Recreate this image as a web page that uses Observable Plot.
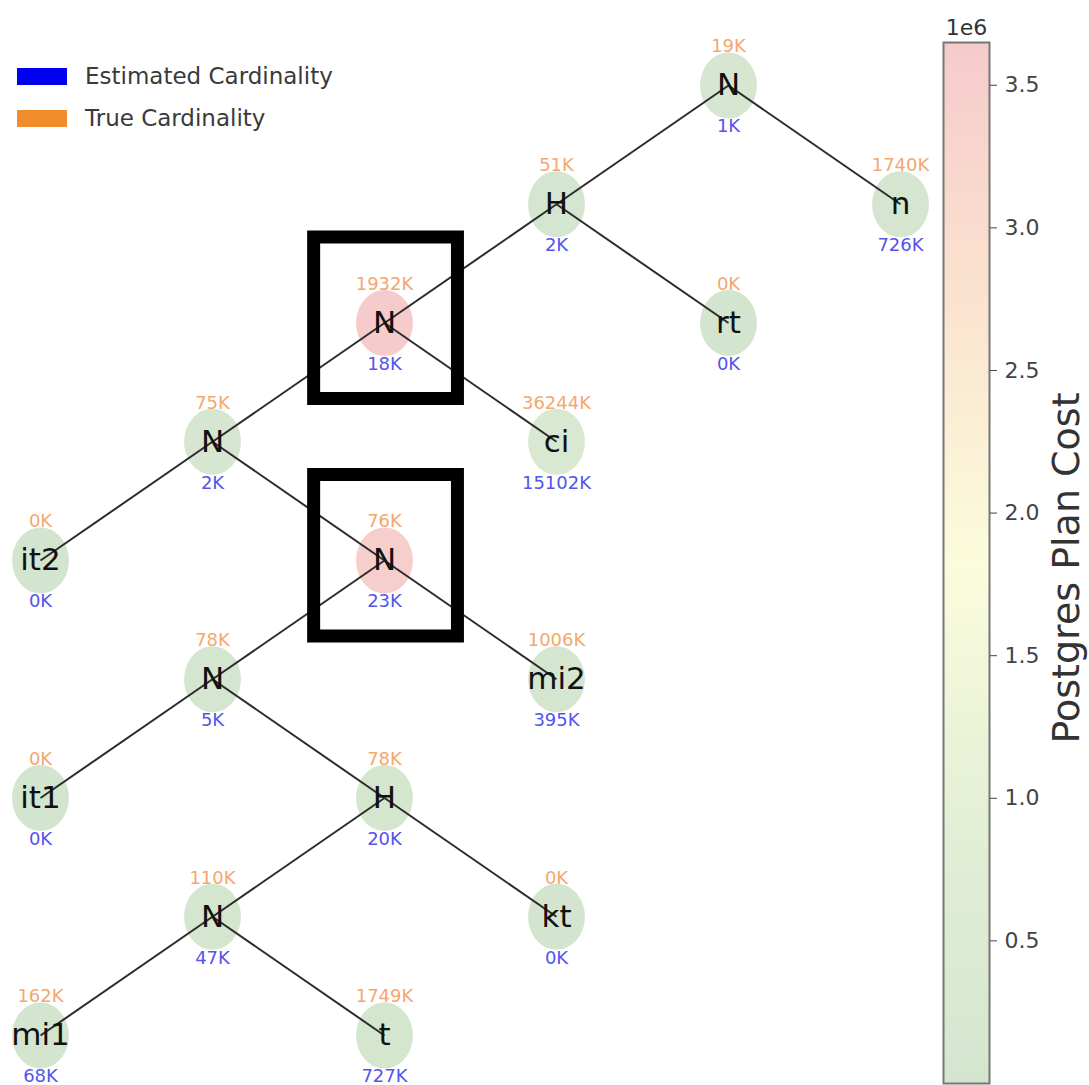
<!DOCTYPE html>
<html><head><meta charset="utf-8">
<script src="https://cdn.jsdelivr.net/npm/d3@7"></script>
<script src="https://cdn.jsdelivr.net/npm/@observablehq/plot@0.6"></script>
<style>
html,body{margin:0;padding:0;background:#fff;}
#wrap{position:relative;width:1089px;height:1085px;font-family:"DejaVu Sans",sans-serif;}
#wrap svg{position:absolute;left:0;top:0;}
#legend{position:absolute;left:17px;top:55px;z-index:5;}
.item{display:flex;align-items:center;height:42px;margin:0;}
.patch{width:50px;height:17px;margin-right:18px;}
.lab{font-size:23px;color:#3a3a3a;line-height:1;}
</style></head>
<body><div id="wrap"><div id="legend"></div></div>
<script>
// ---- data ----
const names     = ["N","H","n","N","rt","N","ci","it2","N","N","mi2","it1","H","N","kt","mi1","t"];
const parents   = [-1, 0, 0, 1, 1, 3, 3, 5, 5, 8, 8, 9, 9, 12, 12, 13, 13];
const trueCard  = ["19K","51K","1740K","1932K","0K","75K","36244K","0K","76K","78K","1006K","0K","78K","110K","0K","162K","1749K"];
const estCard   = ["1K","2K","726K","18K","0K","2K","15102K","0K","23K","5K","395K","0K","20K","47K","0K","68K","727K"];
const planCost  = [120000, 90000, 40000, 3600000, 10000, 100000, 250000, 10000, 3550000, 80000, 90000, 10000, 70000, 60000, 10000, 20000, 50000];
const highlighted = [3, 8];
const legendLabels = ["Estimated Cardinality", "True Cardinality"];
const legendColors = ["#0000f0", "#f08c2c"];
const costTicks = [500000, 1000000, 1500000, 2000000, 2500000, 3000000, 3500000];
const costMax = 3650000;
const rampColors = ["#d4e5cf", "#e3efd5", "#fbfcdc", "#fbe3cf", "#f5cbcb"];

// ---- tree layout (left child -> one column left, right child -> one column right) ----
const depth = [], off = [];
names.forEach((_, i) => {
  const p = parents[i];
  if (p < 0) { depth[i] = 0; off[i] = 0; return; }
  const isLeft = parents.indexOf(p) === i;
  depth[i] = depth[p] + 1;
  off[i] = off[p] + (isLeft ? -1 : 1);
});
const minOff = d3.min(off);
const nodes = names.map((name, i) => ({i, name, col: off[i] - minOff, row: depth[i],
  trueCard: trueCard[i], est: estCard[i], cost: planCost[i]}));
const links = nodes.filter(d => parents[d.i] >= 0).map(d => {
  const p = nodes[parents[d.i]];
  return {x1: p.col, y1: p.row, x2: d.col, y2: d.row};
});
const boxed = nodes.filter(d => highlighted.includes(d.i));

const ellipse = {draw(ctx, size) {
  const r = Math.sqrt(size / Math.PI), rx = r * 0.86, ry = r, k = 0.5523;
  ctx.moveTo(rx, 0);
  ctx.bezierCurveTo(rx, k * ry, k * rx, ry, 0, ry);
  ctx.bezierCurveTo(-k * rx, ry, -rx, k * ry, -rx, 0);
  ctx.bezierCurveTo(-rx, -k * ry, -k * rx, -ry, 0, -ry);
  ctx.bezierCurveTo(k * rx, -ry, rx, -k * ry, rx, 0);
  ctx.closePath();
}};

const colorOpts = () => ({type: "linear", domain: [0, costMax],
  interpolate: d3.piecewise(d3.interpolateRgb, rampColors)});

const main = Plot.plot({
  width: 1089, height: 1085, margin: 0,
  x: {domain: [0, d3.max(nodes, d => d.col)], range: [40, 900], axis: null},
  y: {domain: [0, d3.max(nodes, d => d.row)], range: [85, 1035], axis: null},
  color: colorOpts(),
  style: {fontFamily: "DejaVu Sans", background: "transparent"},
  marks: [
    Plot.dot(nodes, {x: "col", y: "row", r: 33, symbol: ellipse, fill: "cost", stroke: null}),
    Plot.link(links, {x1: "x1", y1: "y1", x2: "x2", y2: "y2", stroke: "#2b2b2b", strokeWidth: 2}),
    Plot.text(nodes, {x: "col", y: "row", text: "name", fontSize: 31, fill: "#111"}),
    Plot.text(nodes, {x: "col", y: "row", text: "trueCard", dy: -39, fontSize: 18, fill: "#f4a76e"}),
    Plot.text(nodes, {x: "col", y: "row", text: "est", dy: 41, fontSize: 18, fill: "#5454ec"}),
    Plot.rect(boxed, {x1: d => d.col - 0.409, x2: d => d.col + 0.427,
      y1: d => d.row - 0.72, y2: d => d.row + 0.64, fill: "none", stroke: "#000", strokeWidth: 13})
  ]
});

const strips = d3.range(400).map(i => ({y1: i * costMax / 400, y2: (i + 1) * costMax / 400, v: (i + 0.5) * costMax / 400}));
const cbar = Plot.plot({
  width: 1089, height: 1085,
  marginLeft: 943, marginRight: 100, marginTop: 42, marginBottom: 2,
  x: {domain: [0, 1], axis: null},
  y: {domain: [0, costMax], axis: null},
  color: colorOpts(),
  style: {fontFamily: "DejaVu Sans", background: "transparent", fontSize: "22px"},
  marks: [
    Plot.rect(strips, {x1: 0, x2: 1, y1: "y1", y2: "y2", fill: "v", shapeRendering: "crispEdges"}),
    Plot.frame({stroke: "#777", strokeWidth: 2}),
    Plot.axisY(costTicks, {anchor: "right", tickSize: 7, tickPadding: 8, label: null,
      tickFormat: d => (d / 1e6).toFixed(1), color: "#444", fontSize: 22}),
    Plot.text(["1e6"], {frameAnchor: "top", lineAnchor: "middle", dy: -15, fontSize: 22, fill: "#333"}),
    Plot.text(["Postgres Plan Cost"], {frameAnchor: "right", textAnchor: "middle", lineAnchor: "middle",
      dx: 77, dy: 5, rotate: -90, fontSize: 38, fill: "#333"})
  ]
});

const wrap = document.getElementById("wrap");
wrap.appendChild(main);
wrap.appendChild(cbar);

const legend = document.getElementById("legend");
legendLabels.forEach((l, i) => {
  const it = document.createElement("div"); it.className = "item";
  const p = document.createElement("div"); p.className = "patch"; p.style.background = legendColors[i];
  const t = document.createElement("span"); t.className = "lab"; t.textContent = l;
  it.appendChild(p); it.appendChild(t); legend.appendChild(it);
});
</script></body></html>
